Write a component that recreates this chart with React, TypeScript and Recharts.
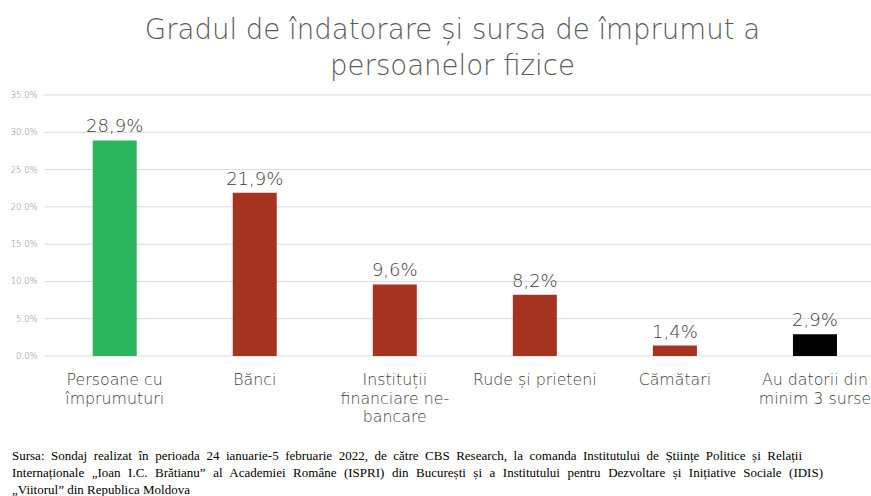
import React from "react";
import { BarChart, Bar, XAxis, YAxis, CartesianGrid, Cell, LabelList } from "recharts";

const categories = [
  "Persoane cu|împrumuturi",
  "Bănci",
  "Instituții|financiare ne-|bancare",
  "Rude și prieteni",
  "Cămătari",
  "Au datorii din|minim 3 surse",
];
const values = [28.9, 21.9, 9.6, 8.2, 1.4, 2.9];
const colors = ["#2DB45F", "#A63320", "#A63320", "#A63320", "#A63320", "#000000"];
const yTicks = [0, 5, 10, 15, 20, 25, 30, 35];
const titleLines = ["Gradul de îndatorare și sursa de împrumut a", "persoanelor fizice"];
const sourceLines = [
  "Sursa: Sondaj realizat în perioada 24 ianuarie-5 februarie 2022, de către CBS Research, la comanda Institutului de Științe Politice și Relații",
  "Internaționale „Ioan I.C. Brătianu” al Academiei Române (ISPRI) din București și a Institutului pentru Dezvoltare și Inițiative Sociale (IDIS)",
  "„Viitorul” din Republica Moldova",
];

const data = categories.map((c, i) => ({ name: c, value: values[i] }));

const FONT = "'DejaVu Sans', sans-serif";

const XTick = (props: any) => {
  const { x, y, payload } = props;
  const lines = String(payload.value).split("|");
  return (
    <text x={x} y={y} textAnchor="middle" fill="#404040" fontSize={15.8} fontFamily={FONT} fontWeight={300}>
      {lines.map((l, i) => (
        <tspan key={i} x={x} dy={i === 0 ? 21 : 18.7}>
          {l}
        </tspan>
      ))}
    </text>
  );
};

export default function App() {
  return (
    <div style={{ position: "absolute", left: 0, top: 0, width: 871, height: 496, overflow: "hidden", background: "#fff" }}>
      {titleLines.map((t, i) => (
        <div
          key={i}
          style={{
            position: "absolute",
            left: 0,
            width: 905,
            top: 13 + i * 36,
            textAlign: "center",
            fontFamily: FONT,
            fontWeight: 300,
            fontSize: 27.6,
            color: "#595959",
            lineHeight: "34px",
            whiteSpace: "nowrap",
          }}
        >
          {t}
        </div>
      ))}
      <div style={{ position: "absolute", left: 0, top: 0 }}>
        <BarChart width={900} height={436} data={data} margin={{ top: 95, right: 15, bottom: 0, left: 0 }}>
          <CartesianGrid vertical={false} stroke="#d9d9d9" />
          <XAxis
            dataKey="name"
            axisLine={false}
            tickLine={false}
            height={80}
            interval={0}
            tick={<XTick />}
          />
          <YAxis
            domain={[0, 35]}
            ticks={yTicks}
            width={44.7}
            axisLine={false}
            tickLine={false}
            tickSize={0}
            tickMargin={7}
            tickFormatter={(v: number) => v.toFixed(1) + "%"}
            tick={{ fill: "#7f7f7f", fontSize: 8.5, fontFamily: FONT, fontWeight: 300 }}
          />
          <Bar dataKey="value" barSize={44} isAnimationActive={false}>
            {data.map((d, i) => (
              <Cell key={i} fill={colors[i]} />
            ))}
            <LabelList
              dataKey="value"
              position="top"
              offset={8}
              formatter={(v: any) => String(Number(v).toFixed(1)).replace(".", ",") + "%"}
              style={{ fill: "#404040", fontSize: 18, fontFamily: FONT, fontWeight: 300 }}
            />
          </Bar>
        </BarChart>
      </div>
      {sourceLines.map((s, i) => (
        <div
          key={i}
          style={{
            position: "absolute",
            left: 12,
            width: i === 0 ? 790 : i === 1 ? 811 : 400,
            top: 447 + i * 17,
            fontFamily: "'Liberation Serif', 'Times New Roman', serif",
            fontSize: 13,
            lineHeight: "17px",
            color: "#000",
            textAlign: "justify",
            textAlignLast: i < 2 ? "justify" : "left",
            whiteSpace: "nowrap",
          }}
        >
          {s}
        </div>
      ))}
    </div>
  );
}
